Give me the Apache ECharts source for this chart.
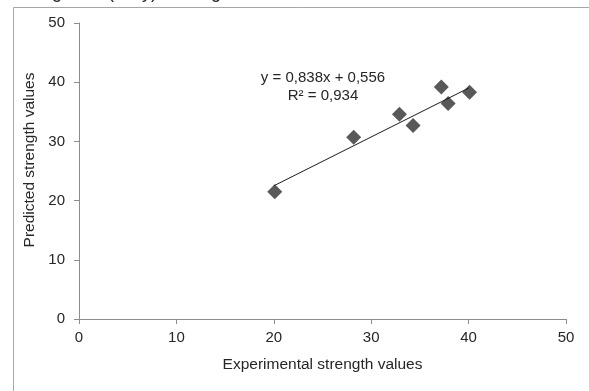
<!DOCTYPE html>
<html>
<head>
<meta charset="utf-8">
<script src="https://cdn.jsdelivr.net/npm/echarts@6/dist/echarts.min.js"></script>
<style>
  html, body { margin: 0; padding: 0; background: #fff; }
  #chart { width: 589px; height: 391px; }
</style>
</head>
<body>
<div id="chart"></div>
<script>
// Experimental vs predicted strength
const experimental = [20.1, 28.2, 32.9, 34.3, 37.2, 37.9, 40.1]
const predicted = [21.5, 30.7, 34.6, 32.7, 39.2, 36.4, 38.3]

// Trendline end points as drawn in the picture
const trendX = [20, 40]
const trendY = [22.5, 39.0]

const equationText = 'y = 0,838x + 0,556'
const r2Text = 'R² = 0,934'

const font = 'Liberation Sans, Arial, sans-serif'

const chart = echarts.init(document.getElementById('chart'))

chart.setOption({
  animation: false,
  grid: { left: 79, right: 23, top: 23, bottom: 72 },
  xAxis: {
    type: 'value',
    min: 0,
    max: 50,
    interval: 10,
    name: 'Experimental strength values',
    nameLocation: 'middle',
    nameGap: 38,
    nameTextStyle: { fontFamily: font, fontSize: 15.5, color: '#262626' },
    axisLine: { show: true, lineStyle: { color: '#8c8c8c' } },
    axisTick: { show: true, length: 5, lineStyle: { color: '#8c8c8c' } },
    axisLabel: { fontFamily: font, fontSize: 15, color: '#262626', margin: 11 },
    splitLine: { show: false }
  },
  yAxis: {
    type: 'value',
    min: 0,
    max: 50,
    interval: 10,
    name: 'Predicted strength values',
    nameLocation: 'middle',
    nameGap: 38,
    nameTextStyle: { fontFamily: font, fontSize: 15.5, color: '#262626', padding: [0, 0, 0, 22] },
    axisLine: { show: true, lineStyle: { color: '#8c8c8c' } },
    axisTick: { show: true, length: 5, lineStyle: { color: '#8c8c8c' } },
    axisLabel: { fontFamily: font, fontSize: 15, color: '#262626', margin: 14 },
    splitLine: { show: false }
  },
  graphic: [
    // outer frame, runs off the right and bottom of the picture
    {
      type: 'rect',
      shape: { x: 13.5, y: 7.5, width: 620, height: 420 },
      style: { fill: 'none', stroke: '#a6a6a6', lineWidth: 1 },
      z: -1
    },
    // caption above, mostly cut off
    {
      type: 'text',
      x: 37,
      y: -16,
      style: { text: 'Figure 6 (Only) training', font: '18px ' + font, fill: '#262626' }
    },
    {
      type: 'text',
      x: 323,
      y: 70,
      style: { text: equationText, font: '15px ' + font, fill: '#262626', textAlign: 'center' }
    },
    {
      type: 'text',
      x: 323,
      y: 88,
      style: { text: r2Text, font: '15px ' + font, fill: '#262626', textAlign: 'center' }
    }
  ],
  series: [
    {
      name: 'Trend',
      type: 'line',
      data: trendX.map((x, i) => [x, trendY[i]]),
      symbol: 'none',
      lineStyle: { color: '#1a1a1a', width: 1 },
      z: 3
    },
    {
      name: 'Values',
      type: 'scatter',
      data: experimental.map((x, i) => [x, predicted[i]]),
      symbol: 'diamond',
      symbolSize: 15,
      itemStyle: { color: '#595959', opacity: 1 },
      z: 2
    }
  ]
})
</script>
</body>
</html>
